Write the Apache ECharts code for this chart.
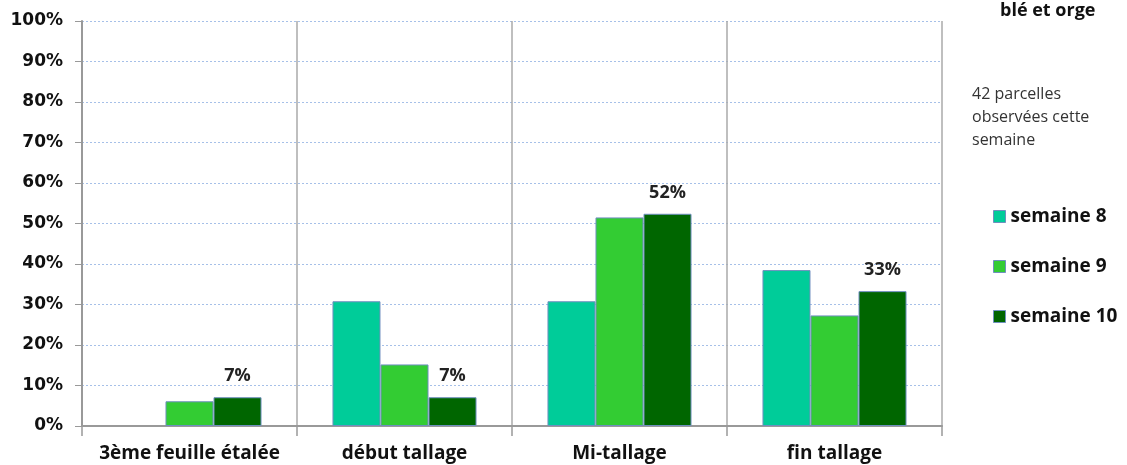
<!DOCTYPE html>
<html><head><meta charset="utf-8">
<script src="https://cdn.jsdelivr.net/npm/echarts@6/dist/echarts.min.js"></script>
<style>html,body{margin:0;padding:0;background:#fff}#c{width:1127px;height:465px}</style>
</head><body><div id="c"></div>
<script>
const categories = ['3ème feuille étalée', 'début tallage', 'Mi-tallage', 'fin tallage'];
const seriesNames = ['semaine 8', 'semaine 9', 'semaine 10'];
const semaine8 = [0, 30.8, 30.8, 38.5];
const semaine9 = [6.1, 15.2, 51.5, 27.3];
const semaine10 = [7.1, 7.1, 52.4, 33.3];
const labelled10 = [true, true, true, true];
const colors = ['#00CC99', '#33CC33', '#006600'];
const titleText = 'blé et orge';
const noteText = '42 parcelles\nobservées cette\nsemaine';

const chart = echarts.init(document.getElementById('c'));
const borderOf = v => ({ borderColor: '#6f8fbf', borderWidth: v > 0 ? 1 : 0 });
const mk = (arr, color) => arr.map(v => ({ value: v, itemStyle: Object.assign({ color: color }, borderOf(v)) }));
const textFont = 'Open Sans';
chart.setOption({
  animation: false,
  backgroundColor: '#fff',
  title: [
    { text: titleText, left: 995, top: -3, textStyle: { fontFamily: textFont, fontWeight: 'bold', fontSize: 18, color: '#111' } },
    { text: noteText, left: 967, top: 78, textStyle: { fontFamily: textFont, fontWeight: 'normal', fontSize: 16, lineHeight: 23, color: '#333' } }
  ],
  legend: {
    orient: 'vertical', left: 988, top: 202, itemGap: 31, itemWidth: 12, itemHeight: 12, icon: 'rect',
    itemStyle: { borderColor: '#6f8fbf', borderWidth: 1 },
    textStyle: { fontFamily: textFont, fontWeight: 'bold', fontSize: 19, color: '#111' },
    data: seriesNames
  },
  grid: { left: 82, right: 185, top: 21, bottom: 39, containLabel: false },
  xAxis: {
    type: 'category', data: categories,
    axisLine: { show: true, lineStyle: { color: '#999', width: 2 } },
    axisTick: { show: true, interval: 0, length: 10, lineStyle: { color: '#999', width: 1.5 } },
    splitLine: { show: true, interval: 0, lineStyle: { color: '#aaa', width: 1.5 } },
    axisLabel: { interval: 0, fontFamily: textFont, fontWeight: 'bold', fontSize: 19, color: '#111', margin: 18 }
  },
  yAxis: {
    type: 'value', min: 0, max: 100, interval: 10,
    axisLine: { show: true, lineStyle: { color: '#999', width: 2 } },
    axisTick: { show: true, length: 7, lineStyle: { color: '#999' } },
    splitLine: { show: true, lineStyle: { color: '#a6c0e8', type: [2, 2], width: 1 } },
    axisLabel: { fontFamily: 'DejaVu Sans', fontWeight: 'bold', fontSize: 17, color: '#111', margin: 19, formatter: '{value}%' }
  },
  series: [
    { name: seriesNames[0], type: 'bar', data: mk(semaine8, colors[0]), barGap: '0%', barCategoryGap: '33%', itemStyle: { color: colors[0] } },
    { name: seriesNames[1], type: 'bar', data: mk(semaine9, colors[1]), itemStyle: { color: colors[1] } },
    { name: seriesNames[2], type: 'bar', data: mk(semaine10, colors[2]).map((d, i) => Object.assign(d, { label: { show: labelled10[i] } })),
      itemStyle: { color: colors[2] },
      label: { position: 'top', distance: 12, fontFamily: textFont, fontWeight: 'bold', fontSize: 18, color: '#222', formatter: p => Math.round(p.value) + '%' } }
  ]
});
</script></body></html>
